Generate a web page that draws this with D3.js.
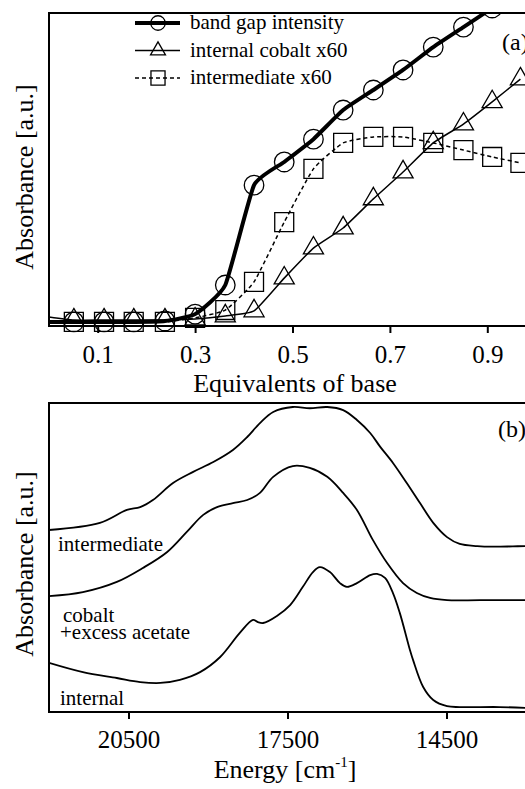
<!DOCTYPE html>
<html>
<head>
<meta charset="utf-8">
<script src="https://cdn.jsdelivr.net/npm/d3@7"></script>
<style>
  html, body { margin: 0; padding: 0; background: #fff; }
</style>
</head>
<body>
<div id="chart"></div>
<script>
const FONT = "'Liberation Serif', 'Times New Roman', Times, 'DejaVu Serif', serif";

// ---- panel (a): titration (arbitrary absorbance units 0..100)
const equiv = [0.051, 0.113, 0.174, 0.238, 0.300, 0.362, 0.421, 0.483, 0.543, 0.604, 0.666, 0.727, 0.789, 0.851, 0.910, 0.968];
const bandGap = [1.3, 1.3, 1.3, 1.6, 3.8, 13.1, 45.0, 52.4, 59.7, 69.0, 75.4, 81.8, 89.1, 95.5, 101.6, 108.0];
const cobaltX60 = [1.9, 1.9, 1.9, 1.9, 2.2, 3.2, 4.8, 15.3, 24.9, 31.3, 40.6, 49.2, 58.5, 64.5, 71.6, 78.9];
const intermediateX60 = [1.3, 1.3, 1.3, 1.3, 2.6, 5.1, 14.1, 33.2, 50.2, 58.5, 60.4, 60.4, 58.5, 56.2, 54.0, 52.1];
const lineStartA = [1.3, 2.9, 1.3]; // where each curve meets the y axis (x = 0)
const legendA = ['band gap intensity', 'internal cobalt x60', 'intermediate x60'];
const ticksA = [0.1, 0.3, 0.5, 0.7, 0.9];

// ---- panel (b): spectra (energy in cm-1, arbitrary absorbance 0..100)
const energyInter = [22000, 21040, 20530, 20280, 20040, 19660, 19280, 18900, 18530, 18260, 18020, 17770, 17400, 17080, 16750, 16450, 16190, 15940, 15750, 15510, 15250, 15000, 14750, 14490, 14250, 13920, 13620, 13250, 13000];
const absInter = [58.9, 61.2, 65.4, 66.3, 68.6, 74.1, 77.7, 80.9, 84.8, 89.0, 93.5, 97.1, 98.7, 98.3, 98.7, 97.7, 94.5, 90.3, 85.8, 80.6, 74.1, 67.6, 61.2, 56.6, 54.4, 53.7, 53.5, 53.6, 53.7];
const energyCobalt = [22000, 21360, 20720, 20230, 19770, 19400, 19090, 18830, 18530, 18260, 18020, 17770, 17400, 17080, 16750, 16450, 16190, 15890, 15620, 15320, 15060, 14810, 14490, 13870, 13000];
const absCobalt = [37.5, 38.8, 42.1, 46.6, 51.8, 58.3, 63.8, 66.3, 67.6, 68.6, 70.9, 76.1, 79.6, 79.0, 76.1, 70.9, 65.4, 55.7, 48.2, 41.7, 38.5, 36.9, 36.2, 36.2, 36.2];
const energyInternal = [22000, 21360, 20720, 20280, 19900, 19530, 19150, 18770, 18400, 18150, 18060, 17960, 17700, 17450, 17210, 17020, 16890, 16700, 16510, 16380, 16190, 15940, 15810, 15660, 15510, 15380, 15190, 15130, 14940, 14750, 14490, 14250, 13500, 13000];
const absInternal = [15.9, 12.9, 11.0, 9.7, 9.4, 10.4, 12.9, 17.8, 25.6, 29.8, 29.1, 28.8, 31.1, 34.6, 40.5, 45.3, 46.9, 45.3, 41.7, 40.5, 41.7, 44.3, 44.7, 43.4, 38.5, 32.0, 20.1, 16.8, 8.1, 3.9, 1.9, 1.6, 1.6, 1.3];
const ticksB = [20500, 17500, 14500];

const W = 525, H = 789;
const svg = d3.select('#chart').append('svg')
	.attr('width', W)
	.attr('height', H)
	.style('font-family', FONT);

const defs = svg.append('defs');

const addText = (sel, size) => sel.append('text')
	.style('font-family', FONT)
	.attr('font-size', size)
	.attr('fill', '#000');

// ================= panel (a)
const a = {left: 49, right: 536, top: 13, bottom: 326};
const xA = d3.scaleLinear().domain([ 0, 1 ]).range([ a.left, a.left + 487 ]);
const yA = d3.scaleLinear().domain([ 0, 100 ]).range([ a.bottom, a.top ]);

defs.append('clipPath').attr('id', 'clipA')
	.append('rect').attr('x', a.left).attr('y', a.top).attr('width', a.right - a.left).attr('height', a.bottom - a.top);
defs.append('clipPath').attr('id', 'clipAm')
	.append('rect').attr('x', a.left).attr('y', a.top).attr('width', a.right - a.left).attr('height', a.bottom - a.top + 20);

const seriesA = [
	{name: legendA[ 0 ], vals: bandGap, start: lineStartA[ 0 ], sym: d3.symbolCircle, size: 300, width: 4, dash: null},
	{name: legendA[ 1 ], vals: cobaltX60, start: lineStartA[ 1 ], sym: d3.symbolTriangle, size: 175, width: 1.5, dash: null},
	{name: legendA[ 2 ], vals: intermediateX60, start: lineStartA[ 2 ], sym: d3.symbolSquare, size: 360, width: 1.5, dash: '4,3'}
];

const lineA = d3.line()
	.x(d => xA(d[ 0 ]))
	.y(d => yA(d[ 1 ]))
	.curve(d3.curveCardinal.tension(0.55));

const gA = svg.append('g');

// thin ones first, thick band gap on top
[ 2, 1, 0 ].forEach(i => {
	const s = seriesA[ i ];
	const pts = [ [ 0, s.start ] ].concat(equiv.map((e, j) => [ e, s.vals[ j ] ]));
	gA.append('path')
		.attr('clip-path', 'url(#clipA)')
		.attr('d', lineA(pts))
		.attr('fill', 'none')
		.attr('stroke', '#000')
		.attr('stroke-width', s.width)
		.attr('stroke-dasharray', s.dash);
});

seriesA.forEach(s => {
	gA.append('g')
		.attr('clip-path', 'url(#clipAm)')
		.selectAll('path')
		.data(equiv.map((e, j) => [ e, s.vals[ j ] ]))
		.enter().append('path')
		.attr('transform', d => `translate(${ xA(d[ 0 ]) },${ yA(d[ 1 ]) })`)
		.attr('d', d3.symbol().type(s.sym).size(s.size))
		.attr('fill', 'none')
		.attr('stroke', '#000')
		.attr('stroke-width', 1.3);
});

// frame + axis
svg.append('rect')
	.attr('x', a.left).attr('y', a.top)
	.attr('width', a.right - a.left).attr('height', a.bottom - a.top)
	.attr('fill', 'none').attr('stroke', '#000').attr('stroke-width', 2);

svg.append('g')
	.attr('transform', `translate(0,${ a.bottom })`)
	.call(d3.axisBottom(xA).tickValues(ticksA).tickFormat(d3.format('.1f')).tickSize(7).tickSizeOuter(0).tickPadding(12))
	.attr('font-family', null)
	.call(g => g.select('.domain').remove())
	.call(g => g.selectAll('line').attr('stroke-width', 2))
	.call(g => g.selectAll('text').style('font-family', FONT).attr('font-size', 25));

addText(svg, 26)
	.attr('x', 295).attr('y', 392)
	.attr('text-anchor', 'middle')
	.text('Equivalents of base');

addText(svg, 26)
	.attr('transform', 'translate(33,177) rotate(-90)')
	.attr('text-anchor', 'middle')
	.text('Absorbance [a.u.]');

addText(svg, 24)
	.attr('x', 502).attr('y', 50)
	.text('(a)');

// legend (hollow markers, line shows through)
const leg = svg.append('g');
seriesA.forEach((s, i) => {
	const yy = 23 + i * 27.5;
	leg.append('line')
		.attr('x1', 135).attr('x2', 180).attr('y1', yy).attr('y2', yy)
		.attr('stroke', '#000')
		.attr('stroke-width', s.width)
		.attr('stroke-dasharray', s.dash);
	leg.append('path')
		.attr('transform', `translate(158,${ yy })`)
		.attr('d', d3.symbol().type(s.sym).size(s.size * 0.55))
		.attr('fill', 'none')
		.attr('stroke', '#000')
		.attr('stroke-width', 1.3);
	addText(leg, 21)
		.attr('x', 190).attr('y', yy + 6)
		.text(s.name);
});

// ================= panel (b)
const b = {left: 49, right: 528, top: 403, bottom: 712};
const xB = d3.scaleLinear().domain([ 22000, 13000 ]).range([ b.left, b.left + 477 ]);
const yB = d3.scaleLinear().domain([ 0, 100 ]).range([ b.bottom, b.top ]);

defs.append('clipPath').attr('id', 'clipB')
	.append('rect').attr('x', b.left).attr('y', b.top).attr('width', b.right - b.left).attr('height', b.bottom - b.top);

const lineB = d3.line()
	.x(d => xB(d[ 0 ]))
	.y(d => yB(d[ 1 ]))
	.curve(d3.curveCatmullRom.alpha(0.5));

const spectra = [
	[ energyInter, absInter ],
	[ energyCobalt, absCobalt ],
	[ energyInternal, absInternal ]
];

spectra.forEach(([ en, ab ]) => {
	svg.append('path')
		.attr('clip-path', 'url(#clipB)')
		.attr('d', lineB(en.map((e, j) => [ e, ab[ j ] ])))
		.attr('fill', 'none')
		.attr('stroke', '#000')
		.attr('stroke-width', 1.8);
});

svg.append('rect')
	.attr('x', b.left).attr('y', b.top)
	.attr('width', b.right - b.left).attr('height', b.bottom - b.top)
	.attr('fill', 'none').attr('stroke', '#000').attr('stroke-width', 2);

svg.append('g')
	.attr('transform', `translate(0,${ b.bottom })`)
	.call(d3.axisBottom(xB).tickValues(ticksB).tickFormat(d3.format('d')).tickSize(7).tickSizeOuter(0).tickPadding(11))
	.attr('font-family', null)
	.call(g => g.select('.domain').remove())
	.call(g => g.selectAll('line').attr('stroke-width', 2))
	.call(g => g.selectAll('text').style('font-family', FONT).attr('font-size', 25));

const eTitle = addText(svg, 26)
	.attr('x', 285).attr('y', 778)
	.attr('text-anchor', 'middle');
eTitle.append('tspan').text('Energy [cm');
eTitle.append('tspan').attr('dy', -11).attr('font-size', 15).text('-1');
eTitle.append('tspan').attr('dy', 11).text(']');

addText(svg, 26)
	.attr('transform', 'translate(33,564) rotate(-90)')
	.attr('text-anchor', 'middle')
	.text('Absorbance [a.u.]');

addText(svg, 24)
	.attr('x', 498).attr('y', 437)
	.text('(b)');

const curveLabels = [
	{t: 'intermediate', x: 58, y: 551},
	{t: 'cobalt', x: 63, y: 622},
	{t: '+excess acetate', x: 60, y: 639},
	{t: 'internal', x: 60, y: 705}
];
curveLabels.forEach(d => {
	addText(svg, 21)
		.attr('x', d.x).attr('y', d.y)
		.text(d.t);
});
</script>
</body>
</html>
